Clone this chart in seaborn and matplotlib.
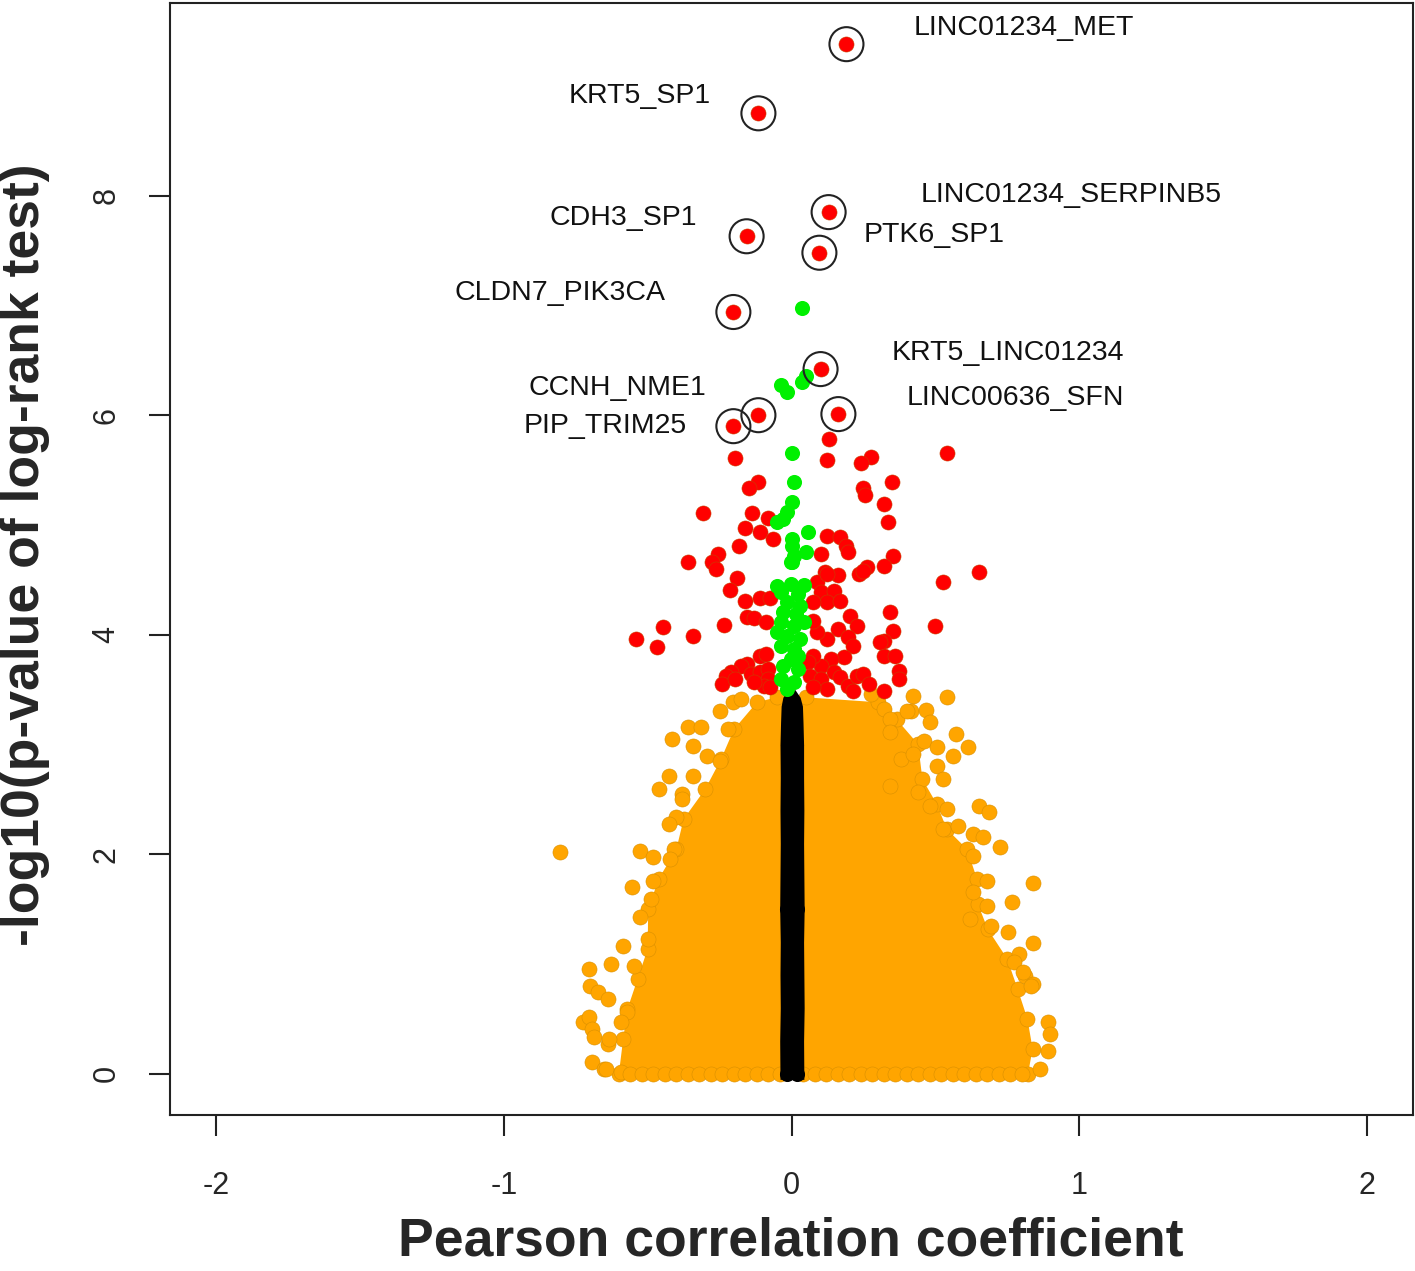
import numpy as np
import pandas as pd
import matplotlib
matplotlib.use("Agg")
import matplotlib.pyplot as plt
import seaborn as sns

sns.set_style("white")
plt.rcParams['font.family'] = ['Liberation Sans', 'DejaVu Sans']

# ---------------- data ----------------
label_names = ["LINC01234_MET", "KRT5_SP1", "LINC01234_SERPINB5", "CDH3_SP1", "PTK6_SP1",
               "CLDN7_PIK3CA", "KRT5_LINC01234", "CCNH_NME1", "LINC00636_SFN", "PIP_TRIM25"]
label_r = [0.191, -0.115, 0.129, -0.156, 0.097, -0.202, 0.101, -0.115, 0.163, -0.202]
label_p = [9.38, 8.75, 7.85, 7.63, 7.48, 6.94, 6.42, 6.00, 6.01, 5.90]
label_tx = [0.424, -0.282, 0.448, -0.327, 0.250, -0.438, 0.348, -0.295, 0.400, -0.365]
label_ty = [9.53, 8.91, 8.01, 7.80, 7.64, 7.11, 6.57, 6.25, 6.16, 5.90]
label_ha = ["left", "right", "left", "right", "left", "right", "left", "right", "left", "right"]

red_r = [0.129, 0.542, -0.198, 0.122, 0.275, 0.243, 0.351, 0.250, 0.254, -0.115,
         -0.149, 0.320, 0.337, -0.309, -0.136, -0.083, -0.163, -0.111, -0.066, 0.122,
         0.167, 0.188, 0.198, -0.184, 0.104, 0.354, -0.257, -0.275, -0.264, -0.361,
         0.323, 0.264, 0.233, 0.118, 0.163, 0.653, 0.528, -0.191, -0.215, -0.163,
         -0.108, -0.073, 0.344, 0.354, 0.500, 0.320, 0.320, 0.361, 0.372, 0.372,
         0.320, -0.539, -0.445, -0.469, -0.344, -0.236, -0.156, -0.132, -0.090,
         -0.108, -0.090, -0.153, -0.177, -0.212, -0.229, -0.240, -0.195, -0.142, -0.108,
         -0.083, -0.083, -0.097, -0.073, -0.132,
         0.090, 0.125, 0.101, 0.146, 0.125, 0.170, 0.076, 0.205, 0.229, 0.160,
         0.195, 0.125, 0.090, 0.076, 0.247, 0.309, 0.215, 0.181, 0.136, 0.101,
         0.076, 0.056, 0.066, 0.101, 0.146, 0.170, 0.195, 0.229, 0.250, 0.268,
         0.215, 0.125, 0.076]
red_p = [5.787, 5.660, 5.614, 5.596, 5.623, 5.560, 5.396, 5.341, 5.277, 5.396,
         5.341, 5.187, 5.023, 5.105, 5.105, 5.068, 4.968, 4.932, 4.868, 4.895,
         4.886, 4.804, 4.750, 4.804, 4.732, 4.713, 4.732, 4.659, 4.595, 4.659,
         4.622, 4.613, 4.550, 4.568, 4.541, 4.568, 4.477, 4.513, 4.404, 4.304,
         4.331, 4.331, 4.204, 4.031, 4.076, 3.940, 3.803, 3.803, 3.667, 3.594,
         3.485, 3.958, 4.067, 3.885, 3.985, 4.086, 4.158, 4.149, 4.113,
         3.803, 3.822, 3.731, 3.712, 3.658, 3.621, 3.549, 3.594, 3.640, 3.658,
         3.685, 3.594, 3.531, 3.521, 3.567,
         4.477, 4.550, 4.386, 4.395, 4.295, 4.304, 4.295, 4.167, 4.076, 4.049,
         3.976, 3.958, 4.022, 4.122, 4.577, 3.931, 3.894, 3.794, 3.776, 3.712,
         3.803, 3.749, 3.621, 3.594, 3.658, 3.612, 3.531, 3.621, 3.640, 3.549,
         3.485, 3.503, 3.521]

green_r = [0.035, -0.038, -0.017, 0.035, 0.049, 0.000, 0.007, 0.003, -0.014, -0.031,
           -0.049, 0.056, 0.003, 0.003, 0.049, 0.007, 0.003, -0.003,
           -0.049, -0.003, 0.042, -0.038, 0.021, -0.014, 0.031, -0.028, 0.014, -0.038,
           0.007, 0.042, -0.049, -0.014, 0.031, -0.038, 0.007, -0.003, 0.021, -0.028,
           0.021, -0.038, 0.007, -0.014]
green_p = [6.979, 6.278, 6.215, 6.306, 6.360, 5.660, 5.396, 5.205, 5.114, 5.050,
           5.023, 4.932, 4.868, 4.804, 4.750, 4.713, 4.659, 4.659,
           4.440, 4.459, 4.450, 4.386, 4.368, 4.295, 4.258, 4.204, 4.186, 4.113,
           4.076, 4.113, 4.022, 3.985, 3.958, 3.894, 3.867, 3.776, 3.803, 3.712,
           3.685, 3.594, 3.567, 3.503]

# dense orange cloud: left envelope (bottom->top) and right envelope (top->bottom)
orange_left_r = [-0.600, -0.585, -0.570, -0.535, -0.500, -0.498, -0.462, -0.400,
                 -0.375, -0.300, -0.245, -0.200, -0.120, -0.052]
orange_left_p = [0.000, 0.318, 0.591, 0.864, 1.137, 1.501, 1.774, 2.047,
                 2.320, 2.593, 2.866, 3.139, 3.385, 3.430]
orange_right_r = [0.049, 0.300, 0.365, 0.440, 0.455, 0.505, 0.540, 0.610, 0.645,
                  0.648, 0.682, 0.750, 0.786, 0.820, 0.838, 0.822]
orange_right_p = [3.430, 3.385, 3.230, 3.003, 2.684, 2.457, 2.229, 2.047, 1.774,
                  1.547, 1.319, 1.046, 0.773, 0.500, 0.227, 0.000]
# orange points read along and outside the edge of the cloud
orange_out_r = [-0.806, -0.525, -0.483, -0.553, -0.584, -0.629, -0.705, -0.699, -0.671,
                -0.639, -0.723, -0.705, -0.692, -0.692, -0.653, -0.639, -0.414, -0.361,
                -0.316, -0.427, -0.462, -0.379, -0.341, -0.247, -0.202, -0.177, -0.403,
                -0.341, -0.292, -0.247, -0.222, -0.379, -0.427, -0.410, -0.421, -0.480,
                -0.490, -0.525, -0.500, -0.549, -0.570, -0.594, -0.688, -0.636, -0.646,
                -0.594,
                0.424, 0.542, 0.414, 0.466, 0.483, 0.570, 0.615, 0.560, 0.650, 0.685,
                0.726, 0.632, 0.664, 0.841, 0.768, 0.681, 0.754, 0.841, 0.789, 0.813,
                0.841, 0.890, 0.900, 0.890, 0.865,
                0.275, 0.320, 0.344, 0.403, 0.344, 0.379, 0.424, 0.459, 0.507, 0.507,
                0.528, 0.344, 0.438, 0.483, 0.542, 0.577, 0.528, 0.632, 0.632, 0.681,
                0.622, 0.692, 0.772, 0.806, 0.831]
orange_out_p = [2.020, 2.029, 1.975, 1.702, 1.165, 1.001, 0.955, 0.801, 0.746,
                0.682, 0.473, 0.519, 0.409, 0.109, 0.045, 0.273, 3.048, 3.157,
                3.157, 2.712, 2.593, 2.548, 2.712, 3.303, 3.385, 3.412, 2.338,
                2.985, 2.894, 2.848, 3.139, 2.502, 2.275, 2.047, 1.956, 1.756,
                1.592, 1.429, 1.228, 0.983, 0.564, 0.473, 0.337, 0.318, 0.045,
                0.018,
                3.440, 3.430, 3.303, 3.312, 3.203, 3.094, 2.975, 2.894, 2.439, 2.384,
                2.066, 2.184, 2.157, 1.738, 1.565, 1.756, 1.292, 1.192, 1.092, 0.892,
                0.819, 0.473, 0.364, 0.209, 0.045,
                3.458, 3.321, 3.230, 3.303, 3.112, 2.866, 2.912, 3.030, 2.975, 2.803,
                2.684, 2.621, 2.566, 2.439, 2.411, 2.257, 2.229, 1.984, 1.656, 1.529,
                1.410, 1.347, 1.019, 0.928, 0.801]
# points lying on the baseline (p close to 1)
orange_base_r = [-0.56, -0.52, -0.48, -0.44, -0.40, -0.36, -0.32, -0.28, -0.24, -0.20,
                 -0.16, -0.12, -0.08, -0.04, 0.04, 0.08, 0.12, 0.16, 0.20, 0.24, 0.28,
                 0.32, 0.36, 0.40, 0.44, 0.48, 0.52, 0.56, 0.60, 0.64, 0.68, 0.72,
                 0.76, 0.80]
orange_base_p = [0.0] * len(orange_base_r)

# black column (|r| close to zero): outer edges of the dense band and points inside it
black_edge_p = [-0.05, 0.3, 0.6, 0.9, 1.2, 1.5, 1.8, 2.1, 2.4, 2.7, 3.0, 3.2, 3.35, 3.43, 3.5]
black_left_r = [-0.040, -0.041, -0.039, -0.040, -0.039, -0.041, -0.040, -0.039,
                -0.040, -0.039, -0.040, -0.038, -0.036, -0.030, -0.012]
black_right_r = [0.043, 0.042, 0.044, 0.043, 0.042, 0.044, 0.043, 0.042,
                 0.043, 0.042, 0.042, 0.040, 0.038, 0.030, 0.012]
black_r = [-0.016, 0.019, -0.015, 0.018, -0.012, 0.014]
black_p = [0.0, 0.0, 1.5, 1.5, 3.0, 3.0]

x_ticks = [-2, -1, 0, 1, 2]
y_ticks = [0, 2, 4, 6, 8]

# ---------------- figure ----------------
W, H = 1415, 1271
fig = plt.figure(figsize=(W / 100, H / 100), dpi=100)
ax = fig.add_axes([170 / W, 1 - 1115 / H, 1243 / W, 1112 / H])

ORANGE = "#FFA500"
S = 118

# orange cloud
ax.fill(orange_left_r + orange_right_r, orange_left_p + orange_right_p,
        color=ORANGE, lw=0, zorder=1)
orange_df = pd.DataFrame({
    "r": orange_left_r + orange_right_r + orange_out_r + orange_base_r,
    "p": orange_left_p + orange_right_p + orange_out_p + orange_base_p})
sns.scatterplot(data=orange_df, x="r", y="p", ax=ax, color=ORANGE, s=S,
                edgecolor="#d99000", linewidth=0.4, zorder=2, legend=False)

# black column
ax.fill_betweenx(black_edge_p, black_left_r, black_right_r, color="black", lw=0, zorder=3)
black_df = pd.DataFrame({"r": black_r, "p": black_p})
sns.scatterplot(data=black_df, x="r", y="p", ax=ax, color="black", s=S,
                linewidth=0, zorder=4, legend=False)

# red (significant) and green
red_df = pd.DataFrame({"r": red_r + label_r, "p": red_p + label_p})
sns.scatterplot(data=red_df, x="r", y="p", ax=ax, color="#FF0000", s=S,
                edgecolor="#c84000", linewidth=0.4, zorder=5, legend=False)
green_df = pd.DataFrame({"r": green_r, "p": green_p})
sns.scatterplot(data=green_df, x="r", y="p", ax=ax, color="#00F000", s=S,
                linewidth=0, zorder=6, legend=False)

# circles around labelled points
ax.scatter(label_r, label_p, s=600, facecolors="none", edgecolors="#222222",
           linewidths=1.5, zorder=7)
for name, tx, ty, ha in zip(label_names, label_tx, label_ty, label_ha):
    ax.text(tx, ty, name, ha=ha, va="center", fontsize=20.5, color="#111111", zorder=8)

# axes
ax.set_xlim(-2.16, 2.16)
ax.set_ylim(-0.375, 9.755)
ax.set_xticks(x_ticks)
ax.set_xticklabels([str(v) for v in x_ticks])
ax.set_yticks(y_ticks)
ax.set_yticklabels([str(v) for v in y_ticks], rotation=90, va="center")
for sp in ax.spines.values():
    sp.set_visible(True)
    sp.set_linewidth(1.5)
    sp.set_color("#222222")
ax.tick_params(axis="both", which="major", direction="out", length=15, width=1.5,
               color="#222222", labelsize=22, bottom=True, left=True, top=False, right=False)
ax.tick_params(axis="x", pad=25)
ax.tick_params(axis="y", pad=20)
ax.grid(False)

ax.set_xlabel("Pearson correlation coefficient", fontsize=38.5, fontweight="bold")
ax.set_ylabel("-log10(p-value of log-rank test)", fontsize=38.5, fontweight="bold")
ax.xaxis.set_label_coords((791 - 170) / 1243, (1115 - 1242) / 1112)
ax.xaxis.label.set_va("center")
ax.yaxis.set_label_coords((25 - 170) / 1243, (1115 - 555) / 1112)
ax.yaxis.label.set_va("center")

fig.savefig("out.png", dpi=100, facecolor="white")
